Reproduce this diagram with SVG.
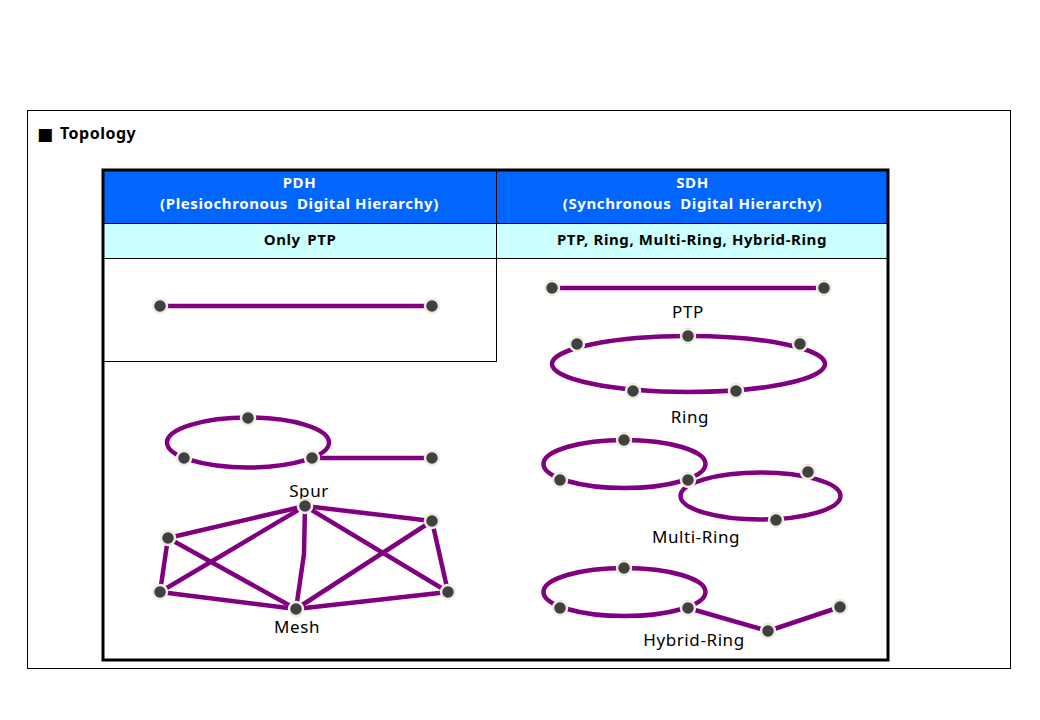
<svg xmlns="http://www.w3.org/2000/svg" width="1040" height="720" viewBox="0 0 1040 720">
<style>
.frame{fill:none;stroke:#000;stroke-width:1}
.hdr{fill:#0066FF}
.sub{fill:#CCFFFF}
.thin{stroke:#000;stroke-width:1;fill:none}
.thick{stroke:#000;stroke-width:3;fill:none}
.link{stroke:#800080;stroke-width:4.5;fill:none;stroke-linecap:round;stroke-linejoin:round}
.node circle{fill:#404040;stroke:#EEEBE0;stroke-width:2.5}
.ht{font-family:"Noto Sans","Liberation Sans",sans-serif;font-weight:bold;font-size:15px;fill:#fff;text-anchor:middle;letter-spacing:0.6px}
.st{font-family:"Noto Sans","Liberation Sans",sans-serif;font-weight:bold;font-size:15px;fill:#000;text-anchor:middle;letter-spacing:0.6px}
.lbl{font-family:"Noto Sans","Liberation Sans",sans-serif;font-size:17px;fill:#000;text-anchor:middle;letter-spacing:0.6px}
</style>
<rect width="1040" height="720" fill="#fff"/>
<rect class="frame" x="27.5" y="110.5" width="983" height="558"/>
<text x="37" y="140" font-family="DejaVu Sans,sans-serif" font-size="17px" font-weight="bold">■</text>
<text x="60" y="139" font-family="Noto Sans,Liberation Sans,sans-serif" font-size="16px" font-weight="bold" letter-spacing="0.5px">Topology</text>

<g id="table">
<rect class="hdr" x="102" y="169" width="787" height="54"/>
<rect class="sub" x="102" y="223" width="787" height="35"/>
<line class="thin" x1="102" y1="223.5" x2="889" y2="223.5"/>
<line class="thin" x1="102" y1="258.5" x2="889" y2="258.5"/>
<line class="thin" x1="496.5" y1="169" x2="496.5" y2="362"/>
<line class="thin" x1="102" y1="361.5" x2="496.5" y2="361.5"/>
<rect class="thick" x="103" y="170" width="785" height="490"/>
<text class="ht" x="299.5" y="188">PDH</text>
<text class="ht" x="299.5" y="209" xml:space="preserve">(Plesiochronous  Digital Hierarchy)</text>
<text class="ht" x="692.5" y="188">SDH</text>
<text class="ht" x="692.5" y="209" xml:space="preserve">(Synchronous  Digital Hierarchy)</text>
<text class="st" x="300" y="245" word-spacing="2px">Only PTP</text>
<text class="st" x="692" y="245">PTP, Ring, Multi-Ring, Hybrid-Ring</text>
</g>

<g id="connectors">
<line class="link" x1="160" y1="306" x2="432" y2="306"/>
<line class="link" x1="552" y1="288" x2="824" y2="288"/>
<ellipse class="link" cx="688.5" cy="364" rx="136.5" ry="28"/>
<ellipse class="link" cx="624.5" cy="464" rx="81" ry="24"/>
<ellipse class="link" cx="760.5" cy="496" rx="80" ry="23.5"/>
<ellipse class="link" cx="624.5" cy="592" rx="81" ry="24"/>
<polyline class="link" points="688,608 768,631 840,607"/>
<ellipse class="link" cx="248" cy="442.5" rx="81" ry="25"/>
<line class="link" x1="312" y1="458" x2="432" y2="458"/>
<line class="link" x1="168" y1="538" x2="305" y2="506"/>
<line class="link" x1="305" y1="506" x2="432" y2="521"/>
<line class="link" x1="168" y1="538" x2="160" y2="592"/>
<line class="link" x1="168" y1="538" x2="296" y2="609"/>
<line class="link" x1="160" y1="592" x2="305" y2="506"/>
<line class="link" x1="160" y1="592" x2="296" y2="609"/>
<polyline class="link" points="305,506 304,554 296,609"/>
<line class="link" x1="305" y1="506" x2="448" y2="592"/>
<line class="link" x1="432" y1="521" x2="296" y2="609"/>
<line class="link" x1="432" y1="521" x2="448" y2="592"/>
<line class="link" x1="296" y1="609" x2="448" y2="592"/>
</g>

<g id="pdh-ptp" class="node"><circle cx="160" cy="306" r="7"/><circle cx="432" cy="306" r="7"/></g>
<g id="sdh-ptp" class="node"><circle cx="552" cy="288" r="7"/><circle cx="824" cy="288" r="7"/><text class="lbl" x="688" y="318">PTP</text></g>
<g id="ring" class="node"><circle cx="577" cy="344" r="7"/><circle cx="688" cy="336" r="7"/><circle cx="800" cy="344" r="7"/><circle cx="633" cy="391" r="7"/><circle cx="736" cy="391" r="7"/><text class="lbl" x="690" y="423">Ring</text></g>
<g id="multi-ring" class="node"><circle cx="624" cy="440" r="7"/><circle cx="560" cy="480" r="7"/><circle cx="688" cy="480" r="7"/><circle cx="808" cy="472" r="7"/><circle cx="776" cy="520" r="7"/><text class="lbl" x="696" y="543">Multi-Ring</text></g>
<g id="hybrid-ring" class="node"><circle cx="624" cy="568" r="7"/><circle cx="560" cy="608" r="7"/><circle cx="688" cy="608" r="7"/><circle cx="768" cy="631" r="7"/><circle cx="840" cy="607" r="7"/><text class="lbl" x="694" y="646">Hybrid-Ring</text></g>
<g id="spur" class="node"><circle cx="248" cy="418" r="7"/><circle cx="184" cy="458" r="7"/><circle cx="312" cy="458" r="7"/><circle cx="432" cy="458" r="7"/><text class="lbl" x="309" y="497">Spur</text></g>
<g id="mesh" class="node"><circle cx="305" cy="506" r="7"/><circle cx="168" cy="538" r="7"/><circle cx="432" cy="521" r="7"/><circle cx="160" cy="592" r="7"/><circle cx="296" cy="609" r="7"/><circle cx="448" cy="592" r="7"/><text class="lbl" x="297" y="633">Mesh</text></g>
</svg>
